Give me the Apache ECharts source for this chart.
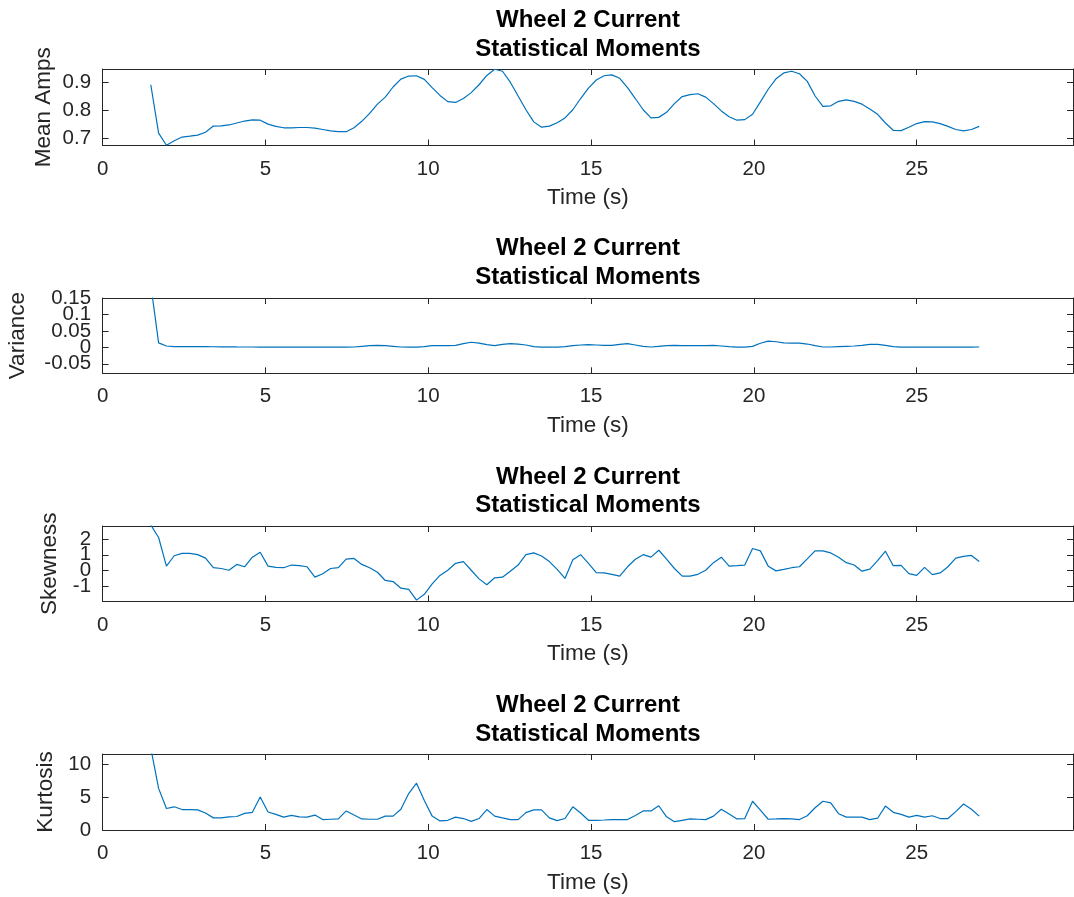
<!DOCTYPE html>
<html><head><meta charset="utf-8">
<script src="https://cdn.jsdelivr.net/npm/echarts@6/dist/echarts.min.js"></script>
<style>html,body{margin:0;padding:0;background:#fff}#c{width:1074px;height:897px}</style>
</head><body><div id="c"></div><script>
// ---- data ----
const time = [1.48,1.72,1.96,2.20,2.44,2.68,2.92,3.16,3.40,3.64,
3.88,4.12,4.36,4.60,4.84,5.08,5.32,5.56,5.80,6.04,
6.28,6.52,6.76,7.00,7.24,7.48,7.72,7.96,8.20,8.44,
8.68,8.92,9.16,9.40,9.64,9.88,10.12,10.36,10.60,10.84,
11.08,11.32,11.56,11.80,12.04,12.28,12.52,12.76,13.00,13.24,
13.48,13.72,13.96,14.20,14.44,14.68,14.92,15.16,15.40,15.64,
15.88,16.12,16.36,16.60,16.84,17.08,17.32,17.56,17.80,18.04,
18.28,18.52,18.76,19.00,19.24,19.48,19.72,19.96,20.20,20.44,
20.68,20.92,21.16,21.40,21.64,21.88,22.12,22.36,22.60,22.84,
23.08,23.32,23.56,23.80,24.04,24.28,24.52,24.76,25.00,25.24,
25.48,25.72,25.96,26.20,26.44,26.68,26.92];
const meanAmps = [0.890,0.718,0.675,0.691,0.704,0.707,0.711,0.721,0.743,0.744,
0.747,0.754,0.761,0.765,0.764,0.750,0.742,0.737,0.737,0.738,
0.738,0.736,0.731,0.726,0.723,0.723,0.737,0.760,0.788,0.821,
0.846,0.882,0.910,0.921,0.922,0.909,0.880,0.852,0.830,0.827,
0.841,0.862,0.890,0.923,0.945,0.938,0.899,0.850,0.801,0.758,
0.739,0.743,0.755,0.772,0.801,0.841,0.878,0.907,0.922,0.925,
0.913,0.880,0.841,0.801,0.772,0.774,0.792,0.823,0.848,0.855,
0.858,0.846,0.823,0.797,0.776,0.764,0.766,0.785,0.829,0.874,
0.911,0.932,0.938,0.929,0.902,0.850,0.813,0.815,0.831,0.836,
0.831,0.821,0.804,0.785,0.754,0.728,0.727,0.739,0.752,0.759,
0.758,0.752,0.742,0.731,0.726,0.731,0.742];
const variance = [0.19,0.0135,0.004,
0.002,0.002,0.002,0.002,0.002,0.0018,0.0015,0.0015,0.0012,0.001,0.001,
0.0005,0.0005,0.0005,0.0005,0.0005,0.0005,0.0005,0.0005,0.0005,0.0005,0.0005,0.0005,
0.001,0.003,0.005,0.006,0.005,0.003,0.001,0.0005,0.0005,0.002,
0.005,0.005,0.005,0.006,0.011,0.0155,0.0125,0.008,0.005,0.009,
0.011,0.010,0.007,0.002,
0.0005,0.0005,0.0005,0.002,0.005,0.007,0.008,0.007,0.006,0.006,
0.009,0.011,0.007,0.003,0.001,0.003,0.005,0.006,0.005,0.005,
0.005,0.005,0.006,0.004,0.002,0.0005,0.0005,0.003,0.0125,0.019,
0.017,0.0135,0.0125,0.0125,0.010,0.005,0.001,0.001,0.002,0.003,
0.004,0.006,0.009,0.009,0.006,0.002,
0.0005,0.0005,0.0005,0.0008,0.0005,0.0005,0.0005,0.0005,0.0005,0.0008,0.001];
const skewness = [2.9,2.10,0.28,0.94,1.09,1.09,1.01,0.79,0.18,0.13,
0.02,0.39,0.24,0.85,1.16,0.28,0.20,0.18,0.35,0.31,
0.24,-0.42,-0.20,0.13,0.18,0.72,0.77,0.39,0.18,-0.11,
-0.63,-0.70,-1.12,-1.20,-1.88,-1.51,-0.85,-0.31,0.02,0.46,
0.57,0.02,-0.53,-0.90,-0.46,-0.42,-0.04,0.35,1.01,1.12,
0.92,0.57,0.07,-0.50,0.68,1.01,0.46,-0.13,-0.15,-0.24,
-0.35,0.24,0.72,1.01,0.85,1.29,0.72,0.13,-0.35,-0.35,
-0.24,0.02,0.50,0.85,0.28,0.31,0.35,1.40,1.25,0.28,
-0.02,0.07,0.18,0.24,0.74,1.25,1.25,1.12,0.85,0.50,
0.35,-0.04,0.09,0.63,1.23,0.31,0.33,-0.20,-0.31,0.20,
-0.26,-0.15,0.24,0.79,0.90,0.96,0.57];
const kurtosis = [12.5,6.35,3.28,3.54,3.12,3.12,3.07,2.59,1.85,1.85,
2.01,2.06,2.54,2.70,5.03,2.75,2.38,1.96,2.22,2.01,
1.96,2.28,1.59,1.64,1.69,2.91,2.28,1.69,1.64,1.64,
2.12,2.12,3.17,5.56,7.14,4.50,2.12,1.38,1.48,1.96,
1.75,1.32,1.75,3.12,2.12,1.85,1.59,1.59,2.65,3.07,
3.07,1.85,1.43,1.75,3.54,2.59,1.48,1.48,1.53,1.59,
1.59,1.59,2.22,2.91,2.91,3.70,2.01,1.27,1.48,1.69,
1.64,1.59,2.12,3.17,2.43,1.69,1.75,4.39,3.02,1.64,
1.69,1.75,1.69,1.59,2.17,3.39,4.39,4.13,2.49,1.96,
1.96,1.96,1.59,1.80,3.65,2.70,2.38,1.96,2.22,1.96,
2.17,1.75,1.75,2.80,3.97,3.17,2.12];
const xTicks = [0,5,10,15,20,25];
const meanTicks = [0.7,0.8,0.9];
const varianceTicks = [-0.05,0,0.05,0.1,0.15];
const skewTicks = [-1,0,1,2];
const kurtTicks = [0,5,10];
const titleLines = ['Wheel 2 Current','Statistical Moments'];
const xName = 'Time (s)';

// ---- layout ----
const FONT = '"Liberation Sans", Arial, Helvetica, sans-serif';
const AX = '#262626';
const LEFT = 102.6, RIGHT = 1;
const panels = [
  {label:'Mean Amps', values:meanAmps, min:0.674, max:0.946, ticks:meanTicks, top:69, height:76.5, nameGap:47},
  {label:'Variance', values:variance, min:-0.079, max:0.15, ticks:varianceTicks, top:298, height:75.3, nameGap:73},
  {label:'Skewness', values:skewness, min:-1.96, max:2.83, ticks:skewTicks, top:526, height:75.4, nameGap:41.5},
  {label:'Kurtosis', values:kurtosis, min:0, max:11.6, ticks:kurtTicks, top:754, height:76, nameGap:45}
];
const grids=[], xAxes=[], yAxes=[], series=[], graphics=[];
const line = {show:true, onZero:false, lineStyle:{color:AX, width:1}};
const labelStyle = {color:AX, fontSize:20.5, fontFamily:FONT, showMinLabel:true, showMaxLabel:true, hideOverlap:false};
panels.forEach((p,i)=>{
  grids.push({left:LEFT, right:RIGHT, top:p.top, height:p.height, containLabel:false, outerBoundsMode:'none'});
  const xb = {type:'value', gridIndex:i, min:0, max:29.8, position:'bottom', axisLine:line,
    axisTick:{show:true, inside:true, length:6, customValues:xTicks, lineStyle:{color:AX}},
    axisLabel:Object.assign({show:true, customValues:xTicks, margin:13}, labelStyle),
    splitLine:{show:false}, name:xName, nameLocation:'middle', nameGap:41, nameMoveOverlap:false,
    nameTextStyle:{color:AX, fontSize:22.5, fontFamily:FONT}};
  const xt = {type:'value', gridIndex:i, min:0, max:29.8, position:'top', axisLine:line,
    axisTick:{show:true, inside:true, length:6, customValues:xTicks, lineStyle:{color:AX}},
    axisLabel:{show:false}, splitLine:{show:false}};
  xAxes.push(xb, xt);
  // labels split into two interleaved sets so that the overlapping labels are all drawn
  const evenT = p.ticks.filter((_,j)=>j%2===0);
  const oddT = p.ticks.filter((_,j)=>j%2===1);
  const yl = {type:'value', gridIndex:i, min:p.min, max:p.max, position:'left', axisLine:line,
    axisTick:{show:true, inside:true, length:6, customValues:p.ticks, lineStyle:{color:AX}},
    axisLabel:Object.assign({show:true, customValues:evenT, margin:11.5}, labelStyle),
    splitLine:{show:false}, name:p.label, nameLocation:'middle', nameGap:p.nameGap, nameRotate:90,
    nameMoveOverlap:false,
    nameTextStyle:{color:AX, fontSize:22.5, fontFamily:FONT}};
  const yr = {type:'value', gridIndex:i, min:p.min, max:p.max, position:'right', axisLine:line,
    axisTick:{show:true, inside:true, length:6, customValues:p.ticks, lineStyle:{color:AX}},
    axisLabel:{show:false}, splitLine:{show:false}};
  const yl2 = {type:'value', gridIndex:i, min:p.min, max:p.max, position:'left', offset:0,
    axisLine:{show:false, onZero:false}, axisTick:{show:false},
    axisLabel:Object.assign({show:oddT.length>0, customValues:oddT.length?oddT:[p.min], margin:11.5}, labelStyle),
    splitLine:{show:false}};
  yAxes.push(yl, yr, yl2);
  series.push({type:'line', xAxisIndex:2*i, yAxisIndex:3*i, data:time.map((t,k)=>[t,p.values[k]]),
    showSymbol:false, symbol:'none', clip:true, animation:false,
    lineStyle:{color:'#0072BD', width:1.2}});
  graphics.push({type:'text', x:588, y:34.75 + 228.33*i, silent:true,
    style:{text:titleLines.join('\n'), align:'center', verticalAlign:'middle',
      font:'bold 24px ' + FONT, lineHeight:28.5, fill:'#000'}});
});
const chart = echarts.init(document.getElementById('c'), null, {renderer:'canvas'});
chart.setOption({animation:false, backgroundColor:'#fff', grid:grids, xAxis:xAxes, yAxis:yAxes, series:series, graphic:graphics});
</script></body></html>
